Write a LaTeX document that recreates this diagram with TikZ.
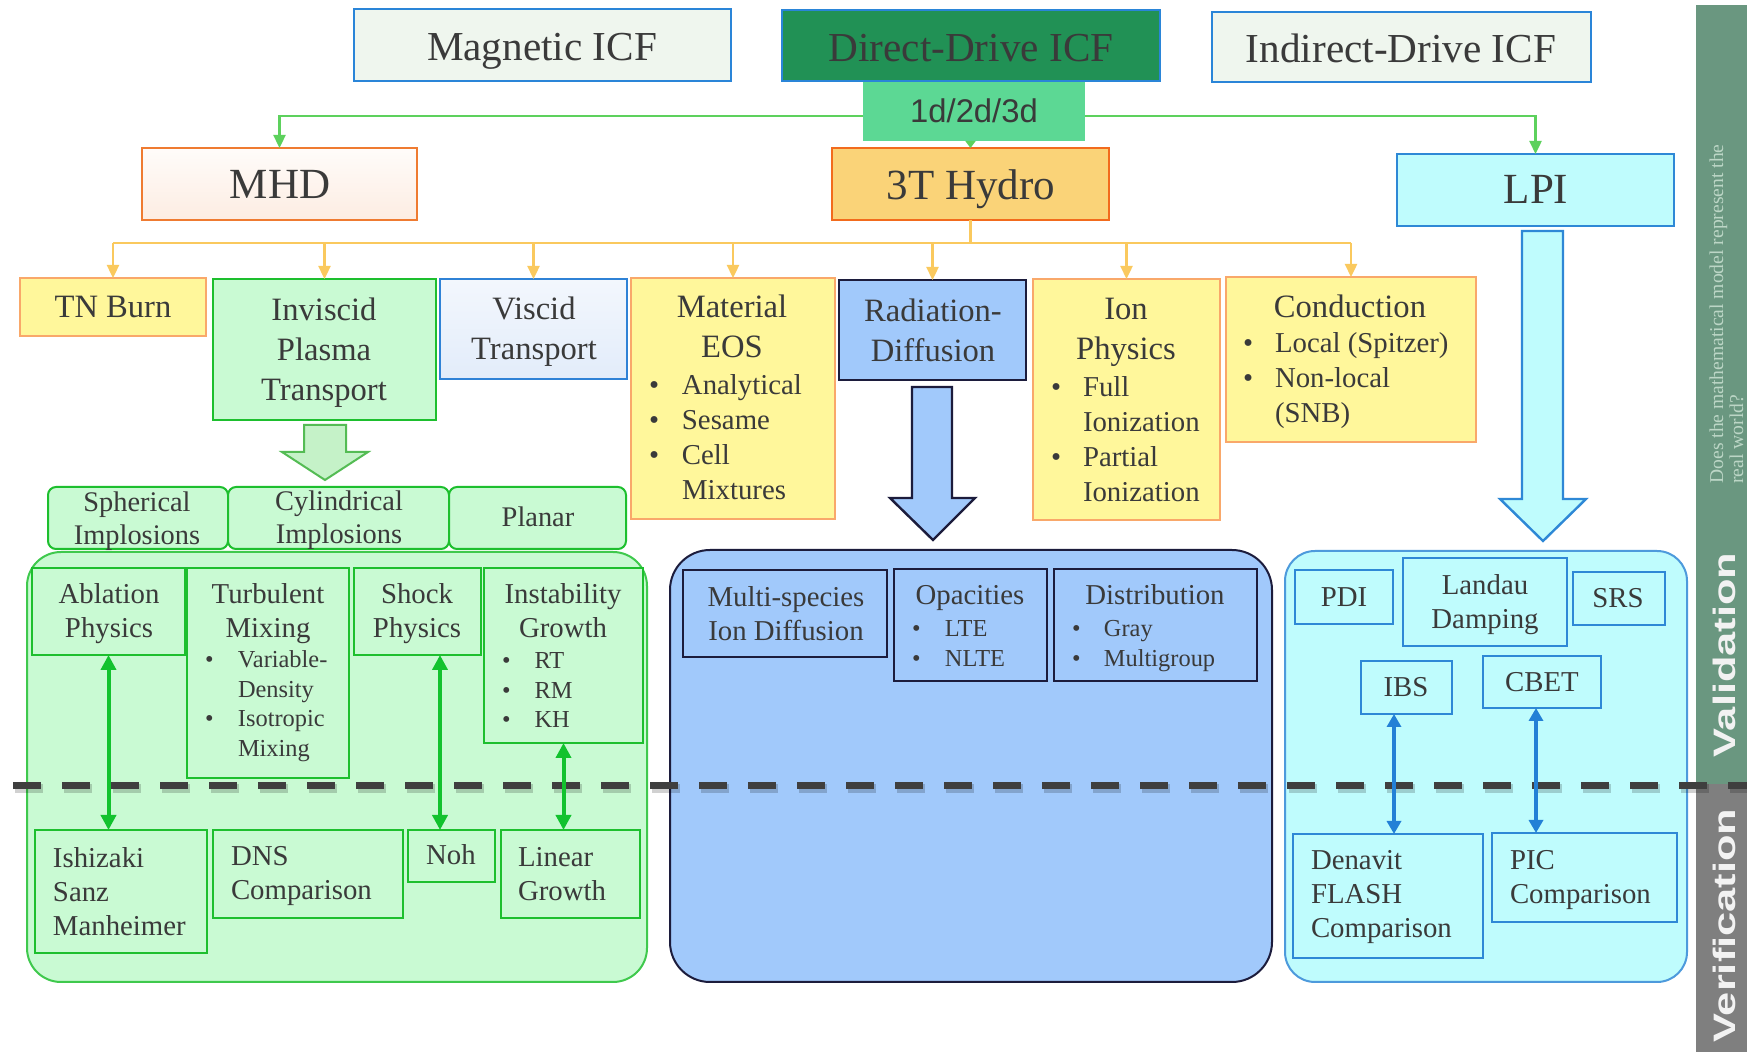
\documentclass[tikz,border=0pt]{standalone}
\usepackage{fontspec}
\setmainfont{Liberation Serif}
\newfontfamily\sansf{Liberation Sans}
\usetikzlibrary{arrows.meta}
\definecolor{txt}{HTML}{3A3A3A}
\definecolor{icfblue}{HTML}{2A85D8}
\definecolor{icfpale}{HTML}{EFF6EE}
\definecolor{ddgreen}{HTML}{219155}
\definecolor{dgreen}{HTML}{5CD894}
\definecolor{mhdline}{HTML}{EF7B31}
\definecolor{hydfill}{HTML}{FAD378}
\definecolor{hydline}{HTML}{F26B1D}
\definecolor{cyfill}{HTML}{BFFCFD}
\definecolor{cyline}{HTML}{2E88D6}
\definecolor{yfill}{HTML}{FFF79B}
\definecolor{yline}{HTML}{F9A86A}
\definecolor{gfill}{HTML}{C9FAD3}
\definecolor{gline}{HTML}{1DBF2E}
\definecolor{bfill}{HTML}{A1C9FB}
\definecolor{bline}{HTML}{1C1C3C}
\definecolor{vline}{HTML}{2F82D6}
\definecolor{vtop}{HTML}{F3F7FD}
\definecolor{vbot}{HTML}{E2ECFA}
\definecolor{gconn}{HTML}{5DD15D}
\definecolor{yconn}{HTML}{FAC95E}
\definecolor{garr}{HTML}{12C22E}
\definecolor{barr}{HTML}{2380D6}
\definecolor{dashc}{HTML}{3F3F3F}
\definecolor{sidegreen}{HTML}{6A9780}
\definecolor{sidegray}{HTML}{7F7F7F}
\definecolor{qtext}{HTML}{BCD6C6}

\newcommand\fTop{\fontsize{20.6}{24}\selectfont}
\newcommand\fBig{\fontsize{21.5}{26}\selectfont}
\newcommand\fMid{\fontsize{16.3}{20}\selectfont}
\newcommand\fMidB{\fontsize{14.4}{17.5}\selectfont}
\newcommand\fIn{\fontsize{14.4}{17}\selectfont}
\newcommand\fSph{\fontsize{14.2}{16.5}\selectfont}
\newcommand\fBul{\fontsize{12.2}{14.7}\selectfont}
\newcommand\bul[1]{\makebox[#1][l]{\textbullet}}

\newcommand\mkbox[6]{\node[#2, minimum width={(#5-#3)*0.5pt}, minimum height={(#6-#4)*0.5pt}] (#1) at ({(#3+#5)/2},{(#4+#6)/2}) {};}
\newcommand\txc[5]{\node[anchor=base, inner sep=0pt, outer sep=0pt, text=txt, font=#4] (#1) at (#2,#3) {\begin{tabular}[t]{@{}c@{}}#5\end{tabular}};}
\newcommand\txl[5]{\node[anchor=base west, inner sep=0pt, outer sep=0pt, text=txt, font=#4] (#1) at (#2,#3) {\begin{tabular}[t]{@{}l@{}}#5\end{tabular}};}

\tikzset{
  bx/.style={draw, line width=1pt, inner sep=0pt, outer sep=0pt},
  icfbox/.style={bx, draw=icfblue, fill=icfpale, line width=1.2pt},
  ddbox/.style={bx, draw=icfblue, fill=ddgreen, line width=1.2pt},
  dbox/.style={bx, draw=none, fill=dgreen},
  mhdbox/.style={bx, draw=mhdline, top color=white!60!mhdline!6, bottom color=mhdline!14, line width=1.2pt},
  hydbox/.style={bx, draw=hydline, fill=hydfill, line width=1.2pt},
  lpibox/.style={bx, draw=cyline, fill=cyfill, line width=1.2pt},
  ybox/.style={bx, draw=yline, fill=yfill},
  gbox/.style={bx, draw=gline, fill=gfill},
  gtab/.style={bx, draw=gline, fill=gfill, rounded corners=4pt},
  vbox/.style={bx, draw=vline, top color=vtop, bottom color=vbot},
  bbox/.style={bx, draw=bline, fill=bfill, line width=1.2pt},
  cbox/.style={bx, draw=cyline, fill=cyfill},
  gcont/.style={bx, draw=gline!85!white, fill=gfill, rounded corners=17pt},
  bcont/.style={bx, draw=bline, fill=bfill, rounded corners=20pt},
  ccont/.style={bx, draw=cyline!85!white, fill=cyfill, rounded corners=15pt},
  gcline/.style={draw=gconn, line width=1.2pt},
  ycline/.style={draw=yconn, line width=1.2pt},
  tipG/.style={-{Triangle[length=6.5pt,width=6pt]}},
  garrow/.style={draw=garr, line width=2pt, {Triangle[length=7.5pt,width=7.5pt]}-{Triangle[length=7.5pt,width=7.5pt]}},
  barrow/.style={draw=barr, line width=2pt, {Triangle[length=6.5pt,width=7pt]}-{Triangle[length=6.5pt,width=7pt]}},
}

\begin{document}
\begin{tikzpicture}[x=0.5pt,y=-0.5pt]
\useasboundingbox (0,0) rectangle (1747,1052);
\fill[white] (0,0) rectangle (1747,1052);

% sidebar
\fill[sidegreen] (1696,5) rectangle (1747,784);
\fill[sidegray] (1696,784) rectangle (1747,1052);

% top row
\mkbox{mag}{icfbox}{354}{9}{731}{81}
\mkbox{dd}{ddbox}{782}{10}{1160}{81}
\mkbox{ind}{icfbox}{1212}{12}{1591}{82}
\mkbox{d123}{dbox}{863}{82}{1085}{141}
\mkbox{mhd}{mhdbox}{142}{148}{417}{220}
\mkbox{hydro}{hydbox}{832}{148}{1109}{220}
\mkbox{lpi}{lpibox}{1397}{154}{1674}{226}

% second row
\mkbox{tn}{ybox}{20}{278}{206}{336}
\mkbox{invis}{gbox}{213}{279}{436}{420}
\mkbox{visc}{vbox}{440}{279}{627}{379}
\mkbox{mat}{ybox}{631}{278}{835}{519}
\mkbox{rad}{bbox}{839}{280}{1026}{380}
\mkbox{ion}{ybox}{1033}{279}{1220}{520}
\mkbox{cond}{ybox}{1226}{277}{1476}{442}

% connectors top
\coordinate (gy) at (0,116);
\coordinate (yb) at (0,243);
\draw[gcline, tipG] (d123.west |- gy) -| (mhd.north);
\draw[gcline, tipG] (d123.east |- gy) -| (lpi.north);
\draw[gcline, -{Triangle[length=3.5pt,width=5pt]}] (d123.south -| hydro.north) -- (hydro.north);
\draw[ycline] (hydro.south) -- (hydro.south |- yb);
\draw[ycline] (tn.north |- yb) -- (cond.north |- yb);
\foreach \n in {tn,invis,visc,mat,rad,ion,cond}
  \draw[ycline, tipG] (\n.north |- yb) -- (\n.north);

% block arrows
\draw[draw=gconn!90!black, fill=gfill!60!gconn!60, line width=1pt, line join=miter]
  (304,425) -- (346,425) -- (346,452) -- (368,452) -- (325,480) -- (282,452) -- (304,452) -- cycle;
\draw[draw=bline, fill=bfill, line width=1.2pt, line join=miter]
  (912,387) -- (952,387) -- (952,498) -- (975,498) -- (933,540) -- (890,498) -- (912,498) -- cycle;
\draw[draw=cyline, fill=cyfill, line width=1.2pt, line join=miter]
  (1522,231) -- (1563,231) -- (1563,499) -- (1586,499) -- (1543,541) -- (1500,499) -- (1522,499) -- cycle;

% geometry tabs
\mkbox{sph}{gtab}{48}{487}{228}{549}
\mkbox{cyl}{gtab}{228}{487}{449}{549}
\mkbox{pla}{gtab}{449}{487}{626}{549}

% containers
\mkbox{gc}{gcont}{27}{552}{647}{982}
\mkbox{bc}{bcont}{670}{550}{1272}{982}
\mkbox{cc}{ccont}{1285}{551}{1687}{982}

% green inner
\mkbox{abl}{gbox}{32}{568}{185}{655}
\mkbox{turb}{gbox}{187}{568}{349}{778}
\mkbox{shock}{gbox}{354}{568}{481}{655}
\mkbox{inst}{gbox}{484}{568}{643}{743}
\mkbox{ish}{gbox}{35}{830}{207}{953}
\mkbox{dns}{gbox}{213}{830}{403}{918}
\mkbox{noh}{gbox}{408}{830}{495}{882}
\mkbox{lin}{gbox}{501}{830}{640}{918}

% blue inner
\mkbox{msid}{bbox}{683}{570}{887}{657}
\mkbox{opac}{bbox}{894}{569}{1047}{681}
\mkbox{dist}{bbox}{1054}{569}{1257}{681}

% cyan inner
\mkbox{pdi}{cbox}{1295}{570}{1393}{624}
\mkbox{land}{cbox}{1403}{558}{1567}{646}
\mkbox{srs}{cbox}{1573}{572}{1665}{625}
\mkbox{ibs}{cbox}{1361}{661}{1452}{714}
\mkbox{cbet}{cbox}{1483}{656}{1601}{708}
\mkbox{den}{cbox}{1293}{834}{1483}{958}
\mkbox{pic}{cbox}{1492}{833}{1677}{922}

% dashed divider
\draw[black, opacity=0.18, line width=4.5pt, dash pattern=on 14pt off 10.5pt] (15,789) -- (1749,789);
\draw[dashc, line width=3.5pt, dash pattern=on 14pt off 10.5pt] (13,786) -- (1747,786);

% double arrows
\coordinate (xa) at (440,0);
\coordinate (xb) at (1394,0);
\coordinate (xc) at (1536,0);
\draw[garrow] (abl.south) -- (abl.south |- ish.north);
\draw[garrow] (xa |- shock.south) -- (xa |- noh.north);
\draw[garrow] (inst.south) -- (inst.south |- lin.north);
\draw[barrow] (xb |- ibs.south) -- (xb |- den.north);
\draw[barrow] (xc |- cbet.south) -- (xc |- pic.north);

% texts: top
\txc{tMag}{542}{61}{\fTop}{Magnetic ICF}
\txc{tDD}{971}{62}{\fTop}{Direct-Drive ICF}
\txc{tInd}{1401}{63}{\fTop}{Indirect-Drive ICF}
\txc{tD}{974}{123}{\sansf\fontsize{16.4}{20}\selectfont}{1d/2d/3d}
\txc{tMHD}{280}{199}{\fBig}{MHD}
\txc{tHy}{971}{200}{\fBig}{3T Hydro}
\txc{tLPI}{1536}{204}{\fBig}{LPI}

% second row texts
\txc{tTN}{113}{318}{\fMid}{TN Burn}
\txc{tInv}{324}{321}{\fMid}{Inviscid\\Plasma\\Transport}
\txc{tVis}{534}{320}{\fMid}{Viscid\\Transport}
\txc{tMat}{732}{318}{\fMid}{Material\\EOS}
\txl{tMatB}{649}{395}{\fMidB}{\bul{16.5pt}Analytical\\\bul{16.5pt}Sesame\\\bul{16.5pt}Cell\\\hspace*{16.5pt}Mixtures}
\txc{tRad}{933}{322}{\fMid}{Radiation-\\Diffusion}
\txc{tIon}{1126}{320}{\fMid}{Ion\\Physics}
\txl{tIonB}{1051}{397}{\fMidB}{\bul{16pt}Full\\\hspace*{16pt}Ionization\\\bul{16pt}Partial\\\hspace*{16pt}Ionization}
\txc{tCon}{1350}{318}{\fMid}{Conduction}
\txl{tConB}{1243}{353}{\fMidB}{\bul{16pt}Local (Spitzer)\\\bul{16pt}Non-local\\\hspace*{16pt}(SNB)}

% geometry tab texts
\txc{tSph}{137}{512}{\fSph}{Spherical\\Implosions}
\txc{tCyl}{339}{511}{\fSph}{Cylindrical\\Implosions}
\txc{tPla}{538}{527}{\fSph}{Planar}

% green inner texts
\txc{tAbl}{109}{604}{\fIn}{Ablation\\Physics}
\txc{tTur}{268}{604}{\fIn}{Turbulent\\Mixing}
\txl{tTurB}{205}{668}{\fBul}{\bul{16.5pt}Variable-\\\hspace*{16.5pt}Density\\\bul{16.5pt}Isotropic\\\hspace*{16.5pt}Mixing}
\txc{tSho}{417}{604}{\fIn}{Shock\\Physics}
\txc{tIns}{563}{604}{\fIn}{Instability\\Growth}
\txl{tInsB}{502}{669}{\fBul}{\bul{16.3pt}RT\\\bul{16.3pt}RM\\\bul{16.3pt}KH}
\txl{tIsh}{53}{868}{\fIn}{Ishizaki\\Sanz\\Manheimer}
\txl{tDNS}{231}{866}{\fIn}{DNS\\Comparison}
\txc{tNoh}{451}{865}{\fIn}{Noh}
\txl{tLin}{518}{867}{\fIn}{Linear\\Growth}

% blue inner texts
\txc{tMs}{786}{607}{\fIn}{Multi-species\\Ion Diffusion}
\txc{tOp}{970}{605}{\fIn}{Opacities}
\txl{tOpB}{912}{637}{\fBul}{\bul{16.5pt}LTE\\\bul{16.5pt}NLTE}
\txc{tDi}{1155}{605}{\fIn}{Distribution}
\txl{tDiB}{1072}{637}{\fBul}{\bul{16pt}Gray\\\bul{16pt}Multigroup}

% cyan inner texts
\txc{tPDI}{1344}{607}{\fIn}{PDI}
\txc{tLan}{1485}{595}{\fIn}{Landau\\Damping}
\txc{tSRS}{1618}{608}{\fIn}{SRS}
\txc{tIBS}{1406}{697}{\fIn}{IBS}
\txc{tCB}{1542}{692}{\fIn}{CBET}
\txl{tDen}{1311}{870}{\fIn}{Denavit\\FLASH\\Comparison}
\txl{tPIC}{1510}{870}{\fIn}{PIC\\Comparison}

% sidebar texts
\node[rotate=90, anchor=base west, inner sep=0pt, text=white!95!black, font=\sansf\bfseries\fontsize{15.5}{18}\selectfont] (sVal) at (1735,758) {\scalebox{1.4}[1]{Validation}};
\node[rotate=90, anchor=base west, inner sep=0pt, text=white!95!black, font=\sansf\bfseries\fontsize{15.5}{18}\selectfont] (sVer) at (1735,1043) {\scalebox{1.4}[1]{Verification}};
\node[rotate=90, anchor=base west, inner sep=0pt, text=qtext, font=\fontsize{9.8}{10}\selectfont] (sQ) at (1723,484) {\begin{tabular}[t]{@{}l@{}}Does the mathematical model represent the\\real world?\end{tabular}};
\end{tikzpicture}
\end{document}
